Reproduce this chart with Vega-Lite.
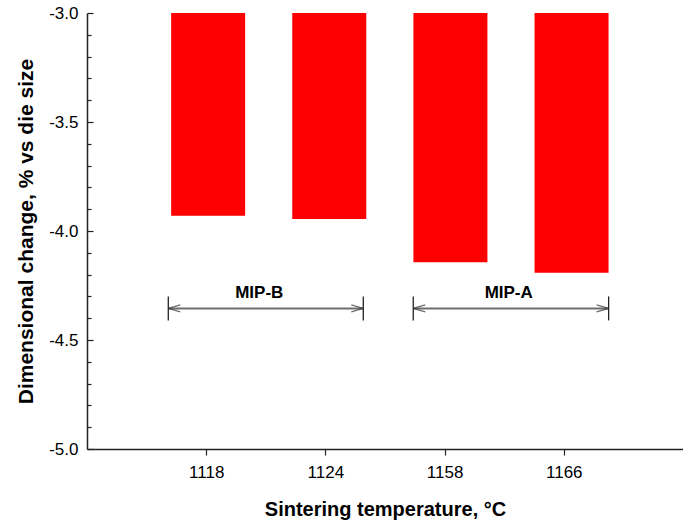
{
  "$schema": "https://vega.github.io/schema/vega-lite/v6.json",
  "width": 596,
  "height": 436,
  "autosize": {"type": "none"},
  "padding": {"left": 87, "top": 13, "right": 0, "bottom": 74},
  "background": "white",
  "config": {
    "view": {"stroke": null},
    "font": "Liberation Sans",
    "axis": {"grid": false, "labelFont": "Liberation Sans", "titleFont": "Liberation Sans", "labelColor": "black", "titleColor": "black", "domainColor": "#222", "tickColor": "#222"}
  },
  "datasets": {
    "bars": [
      {"pos": 1, "temp": "1118", "change": -3.93},
      {"pos": 2, "temp": "1124", "change": -3.945},
      {"pos": 3, "temp": "1158", "change": -4.143},
      {"pos": 4, "temp": "1166", "change": -4.192}
    ],
    "groups": [
      {"group": "MIP-B", "from": 0.682, "to": 2.318, "mid": 1.445, "level": -4.355, "labelLevel": -4.284},
      {"group": "MIP-A", "from": 2.737, "to": 4.376, "mid": 3.538, "level": -4.355, "labelLevel": -4.284}
    ],
    "ends": [
      {"group": "MIP-B", "at": 0.682, "side": "start", "level": -4.355, "lo": -4.41, "hi": -4.30},
      {"group": "MIP-B", "at": 2.318, "side": "end", "level": -4.355, "lo": -4.41, "hi": -4.30},
      {"group": "MIP-A", "at": 2.737, "side": "start", "level": -4.355, "lo": -4.41, "hi": -4.30},
      {"group": "MIP-A", "at": 4.376, "side": "end", "level": -4.355, "lo": -4.41, "hi": -4.30}
    ],
    "minor": [
      {"v": -5.0}, {"v": -4.9}, {"v": -4.8}, {"v": -4.7}, {"v": -4.6}, {"v": -4.5},
      {"v": -4.4}, {"v": -4.3}, {"v": -4.2}, {"v": -4.1}, {"v": -4.0},
      {"v": -3.9}, {"v": -3.8}, {"v": -3.7}, {"v": -3.6}, {"v": -3.5},
      {"v": -3.4}, {"v": -3.3}, {"v": -3.2}, {"v": -3.1}, {"v": -3.0}
    ]
  },
  "resolve": {
    "scale": {"x": "independent"},
    "axis": {"y": "independent", "x": "independent"}
  },
  "layer": [
    {
      "data": {"name": "bars"},
      "mark": {"type": "bar", "size": 74, "color": "#ff0000"},
      "encoding": {
        "x": {
          "field": "pos", "type": "quantitative",
          "scale": {"domain": [0, 4.92], "nice": false, "zero": false, "padding": 0},
          "axis": null
        },
        "y": {
          "field": "change", "type": "quantitative",
          "scale": {"domain": [-5, -3], "nice": false, "zero": false},
          "axis": {
            "values": [-5, -4.5, -4, -3.5, -3],
            "labelExpr": "replace(format(datum.value, '.1f'), '−', '-')",
            "title": "Dimensional change, % vs die size",
            "titleFontSize": 21, "titleFontWeight": "bold", "titlePadding": 12,
            "labelFontSize": 17, "labelPadding": 15, "tickSize": -6, "tickWidth": 1.2,
            "domainWidth": 1.5
          }
        },
        "y2": {"datum": -3}
      }
    },
    {
      "data": {"name": "bars"},
      "mark": {"type": "tick", "opacity": 0},
      "encoding": {
        "x": {
          "field": "pos", "type": "quantitative",
          "scale": {"domain": [0, 5], "nice": false, "zero": false, "padding": 0},
          "axis": {
            "values": [1, 2, 3, 4],
            "labelExpr": "datum.value == 1 ? '1118' : datum.value == 2 ? '1124' : datum.value == 3 ? '1158' : '1166'",
            "title": "Sintering temperature, °C",
            "titleFontSize": 20, "titleFontWeight": "bold", "titlePadding": 19,
            "labelFontSize": 17, "labelPadding": 9, "tickSize": 6, "tickWidth": 1.2,
            "domainWidth": 1.5
          }
        },
        "y": {"field": "change", "type": "quantitative", "axis": null}
      }
    },
    {
      "data": {"name": "minor"},
      "mark": {"type": "tick", "opacity": 0},
      "encoding": {
        "y": {
          "field": "v", "type": "quantitative",
          "axis": {
            "values": [-4.9, -4.8, -4.7, -4.6, -4.4, -4.3, -4.2, -4.1, -3.9, -3.8, -3.7, -3.6, -3.4, -3.3, -3.2, -3.1],
            "labels": false, "domain": false, "title": null, "tickSize": -4, "tickWidth": 1.2, "orient": "left"
          }
        }
      }
    },
    {
      "mark": {"type": "rule", "color": "#444", "strokeWidth": 2},
      "encoding": {"y": {"datum": -3, "axis": null}}
    },
    {
      "data": {"name": "groups"},
      "mark": {"type": "rule", "color": "#6e6e6e", "strokeWidth": 2},
      "encoding": {
        "x": {"field": "from", "type": "quantitative", "axis": null, "scale": {"domain": [0, 5], "nice": false, "zero": false, "padding": 0}},
        "x2": {"field": "to"},
        "y": {"field": "level", "type": "quantitative", "axis": null}
      }
    },
    {
      "data": {"name": "ends"},
      "mark": {"type": "rule", "color": "#222", "strokeWidth": 1.3},
      "encoding": {
        "x": {"field": "at", "type": "quantitative", "axis": null, "scale": {"domain": [0, 5], "nice": false, "zero": false, "padding": 0}},
        "y": {"field": "lo", "type": "quantitative", "axis": null},
        "y2": {"field": "hi"}
      }
    },
    {
      "data": {"name": "ends"},
      "transform": [{"filter": "datum.side == 'start'"}],
      "mark": {"type": "point", "shape": "M0,0L1,-0.3M0,0L1,0.3", "filled": false, "size": 576, "stroke": "#333", "strokeWidth": 1.3},
      "encoding": {
        "x": {"field": "at", "type": "quantitative", "axis": null, "scale": {"domain": [0, 5], "nice": false, "zero": false, "padding": 0}},
        "y": {"field": "level", "type": "quantitative", "axis": null}
      }
    },
    {
      "data": {"name": "ends"},
      "transform": [{"filter": "datum.side == 'end'"}],
      "mark": {"type": "point", "shape": "M0,0L-1,-0.3M0,0L-1,0.3", "filled": false, "size": 576, "stroke": "#333", "strokeWidth": 1.3},
      "encoding": {
        "x": {"field": "at", "type": "quantitative", "axis": null, "scale": {"domain": [0, 5], "nice": false, "zero": false, "padding": 0}},
        "y": {"field": "level", "type": "quantitative", "axis": null}
      }
    },
    {
      "data": {"name": "groups"},
      "mark": {"type": "text", "fontSize": 17, "fontWeight": "bold", "color": "black", "baseline": "middle"},
      "encoding": {
        "x": {"field": "mid", "type": "quantitative", "axis": null, "scale": {"domain": [0, 5], "nice": false, "zero": false, "padding": 0}},
        "y": {"field": "labelLevel", "type": "quantitative", "axis": null},
        "text": {"field": "group"}
      }
    }
  ]
}
